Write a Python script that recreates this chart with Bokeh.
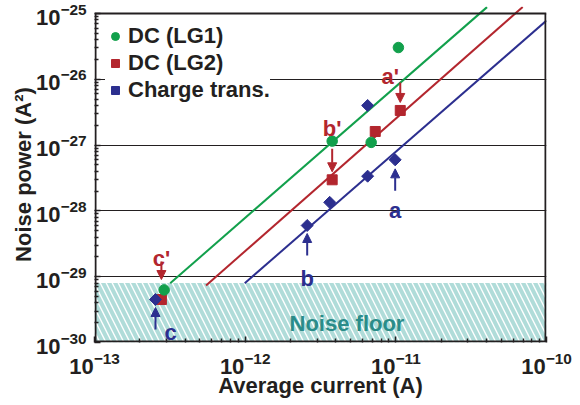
import math
from bokeh.plotting import figure
from bokeh.models import (Range1d, FixedTicker, Legend, LegendItem, Arrow, NormalHead, Label)
from bokeh.embed import file_html
from bokeh.resources import INLINE

# ---------------- data ----------------
lg1_current = [1.04e-11, 6.86e-12, 3.78e-12, 2.9e-13]
lg1_noise = [3.04e-26, 1.10e-27, 1.15e-27, 6.3e-30]
lg2_current = [1.07e-11, 7.3e-12, 3.78e-12, 2.78e-13]
lg2_noise = [3.36e-27, 1.61e-27, 2.97e-28, 4.5e-30]
ct_current = [6.5e-12, 9.9e-12, 6.5e-12, 3.64e-12, 2.58e-12, 2.54e-13]
ct_noise = [4.0e-27, 5.97e-28, 3.37e-28, 1.35e-28, 6.0e-29, 4.5e-30]

fit_lg1_current = [3.18e-13, 4.03e-11]
fit_lg1_noise = [7.96e-30, 1.25e-25]
fit_lg2_current = [5.5e-13, 6.95e-11]
fit_lg2_noise = [7.35e-30, 1.26e-25]
fit_ct_current = [9.93e-13, 1.0e-10]
fit_ct_noise = [7.96e-30, 7.8e-26]

noise_floor_top = 8e-30
x_ticks = [1e-13, 1e-12, 1e-11, 1e-10]
y_ticks = [1e-30, 1e-29, 1e-28, 1e-27, 1e-26, 1e-25]
series_names = ["DC (LG1)", "DC (LG2)", "Charge trans."]

# ---------------- style ----------------
GREEN = "#12a04c"
RED = "#b3262e"
BLUE = "#2c2f8f"
TEAL = "#2a8c89"
HATCH = "#b0dcd9"
INK = "#231f20"
FONT = "Liberation Sans"

W, H = 580, 404
ML, MR, MT, MB = 94, 34, 6, 62
FRAME_W = W - ML - MR
FRAME_H = H - MT - MB
EXT = 7  # px of room above the top decade for the fit lines
PXY = (FRAME_H - EXT) / 5.0
PXX = FRAME_W / 3.0
Y_TOP = y_ticks[-1] * 10 ** (EXT / PXY)


def xs(x, dpx):
    return x * 10 ** (dpx / PXX)


def ys(y, dpx):
    return y * 10 ** (-dpx / PXY)


p = figure(width=W, height=H, x_axis_type="log", y_axis_type="log",
           x_range=Range1d(x_ticks[0], x_ticks[-1]), y_range=Range1d(y_ticks[0], Y_TOP),
           output_backend="svg", toolbar_location=None,
           min_border_left=ML, min_border_right=MR, min_border_top=MT,
           min_border_bottom=MB)
p.outline_line_color = None
p.background_fill_color = "white"
p.border_fill_color = "white"

minor_x = [m * 10.0 ** e for e in range(-13, -10) for m in range(2, 10)]
minor_y = [m * 10.0 ** e for e in range(-30, -25) for m in range(2, 10)]
p.xaxis.ticker = FixedTicker(ticks=x_ticks, minor_ticks=minor_x)
p.yaxis.ticker = FixedTicker(ticks=y_ticks, minor_ticks=minor_y)

for ax in (p.xaxis, p.yaxis):
    ax.axis_line_color = None
    ax.major_tick_in = 6
    ax.major_tick_out = 0
    ax.minor_tick_in = 4
    ax.minor_tick_out = 0
    ax.major_tick_line_color = INK
    ax.minor_tick_line_color = INK
    ax.major_tick_line_width = 1.5
    ax.minor_tick_line_width = 1.5
    ax.major_label_text_font = FONT
    ax.major_label_text_font_style = "bold"
    ax.major_label_text_font_size = "22px"
    ax.major_label_text_color = INK
    ax.axis_label_text_font = FONT
    ax.axis_label_text_font_style = "bold"
    ax.axis_label_text_font_size = "22px"
    ax.axis_label_text_color = INK

p.xaxis.axis_label = "Average current (A)"
p.yaxis.axis_label = "Noise power (A\u00b2)"
p.xaxis.major_label_standoff = 9
p.yaxis.major_label_standoff = 8
p.xaxis.axis_label_standoff = -4
p.yaxis.axis_label_standoff = -3

p.xgrid.visible = False
p.ygrid.ticker = FixedTicker(ticks=y_ticks[1:-1])
p.ygrid.grid_line_color = INK
p.ygrid.grid_line_width = 1.2

# noise floor
p.quad(left=[x_ticks[0]], right=[x_ticks[-1]], bottom=[y_ticks[0]], top=[noise_floor_top],
       fill_color="white", line_color=None, hatch_pattern="left_diagonal_line",
       hatch_color=HATCH, hatch_weight=4, hatch_scale=12)
p.add_layout(Label(x=1.97e-12, y=1.96e-30, text="Noise floor", text_font=FONT,
                   text_font_style="bold", text_font_size="22px", text_color=TEAL,
                   text_baseline="alphabetic"))

# fit lines
p.line(fit_lg1_current, fit_lg1_noise, line_color=GREEN, line_width=2)
p.line(fit_lg2_current, fit_lg2_noise, line_color=RED, line_width=2)
p.line(fit_ct_current, fit_ct_noise, line_color=BLUE, line_width=2)

# markers
r_lg2 = p.scatter(lg2_current, lg2_noise, marker="square", size=10, color=RED)
r_lg1 = p.scatter(lg1_current, lg1_noise, marker="circle", size=10.5, color=GREEN)
r_ct = p.scatter(ct_current, ct_noise, marker="square", angle=math.pi / 4, size=8.5, color=BLUE)

# frame border (drawn 1px inside the frame edges so its full width shows)
xl, xr = xs(x_ticks[0], 1), xs(x_ticks[-1], -1)
yb, yt = ys(y_ticks[0], -1), y_ticks[-1]
p.segment(x0=[xl, xr, x_ticks[0], x_ticks[0]], y0=[yb, yb, yt, yb],
          x1=[xl, xr, x_ticks[-1], x_ticks[-1]], y1=[yt, yt, yt, yb],
          line_color=INK, line_width=2)

# annotations: (text, colour, target x, target y, label dx, label baseline dy, arrow from dy, arrow to dy)
annotations = [
    ("a'", RED, lg2_current[0], lg2_noise[0], -10, -34, -28, -8),
    ("b'", RED, lg2_current[2], lg2_noise[2], 0, -51, -31, -8),
    ("c'", RED, lg2_current[3], lg2_noise[3], 0, -41, -38, -20),
    ("a", BLUE, ct_current[1], ct_noise[1], 0, 51, 31, 9),
    ("b", BLUE, ct_current[4], ct_noise[4], 0, 53, 30, 8),
    ("c", BLUE, ct_current[5], ct_noise[5], 15, 33, 30, 8),
]
for txt, col, tx, ty, ldx, ldy, a0, a1 in annotations:
    p.add_layout(Label(x=xs(tx, ldx), y=ys(ty, ldy), text=txt, text_font=FONT,
                       text_font_style="bold", text_font_size="22px", text_color=col,
                       text_align="center", text_baseline="alphabetic"))
    p.add_layout(Arrow(x_start=tx, y_start=ys(ty, a0), x_end=tx, y_end=ys(ty, a1),
                       line_color=col, line_width=2,
                       end=NormalHead(size=9, fill_color=col, line_color=col, line_width=1)))

legend = Legend(items=[LegendItem(label=series_names[0], renderers=[r_lg1]),
                       LegendItem(label=series_names[1], renderers=[r_lg2]),
                       LegendItem(label=series_names[2], renderers=[r_ct])],
                location=(11, 239), padding=3, spacing=1, glyph_width=20, glyph_height=20,
                label_height=20, label_standoff=3, border_line_color=None,
                background_fill_color="white", background_fill_alpha=1,
                label_text_font=FONT, label_text_font_style="bold",
                label_text_font_size="22px", label_text_color=INK)
p.add_layout(legend)

open("out.html", "w").write(file_html(p, INLINE))
